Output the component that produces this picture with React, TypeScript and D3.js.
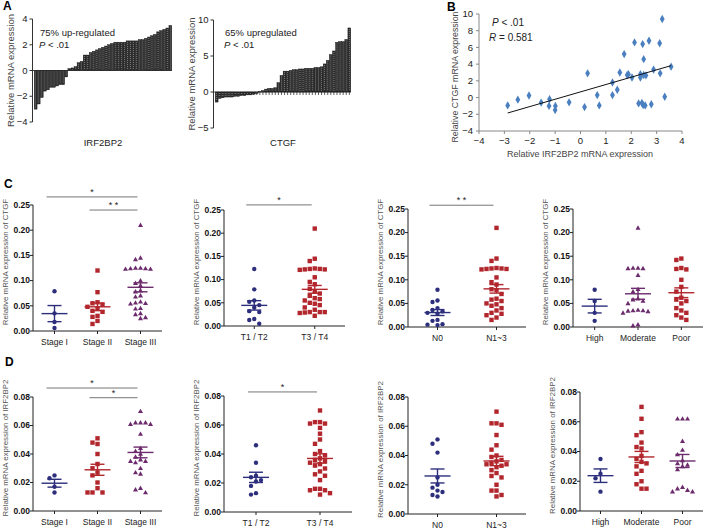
import React from 'react'
import * as d3 from 'd3'

const FONT = 'Liberation Sans, Arial, sans-serif'
const NAVY = '#2d2f7c'
const RED = '#b2272d'
const PURPLE = '#6c2b6c'

// panel A - fold change per patient, sorted
const irfFold = [-3.0, -2.6, -2.1, -1.6, -1.5, -1.3, -1.3, -1.2, -1.1, -1.1, -0.5, 0.15, 0.2, 0.3, 0.6, 0.7, 1.2, 1.2, 1.4, 1.5, 1.6, 1.7, 1.8, 1.9, 2.0, 2.1, 2.2, 2.2, 2.2, 2.2, 2.3, 2.3, 2.3, 2.3, 2.4, 2.4, 2.5, 2.6, 2.7, 2.8, 3.0, 3.1, 3.2, 3.3, 3.5]
const ctgfFold = [-1.4, -0.9, -0.8, -0.7, -0.7, -0.7, -0.6, -0.6, -0.5, -0.5, -0.4, -0.4, -0.3, -0.2, 0.1, 0.2, 0.4, 0.5, 0.5, 0.6, 1.3, 2.3, 2.9, 2.9, 3.0, 3.1, 3.1, 3.2, 3.2, 3.3, 3.3, 3.3, 3.4, 3.4, 3.5, 3.9, 4.4, 5.2, 5.7, 6.9, 7.0, 7.0, 7.3, 8.9]

// panel B - correlation
const irfX = [-2.87, -2.47, -2.03, -1.55, -1.22, -1.24, -0.99, -1.0, -0.45, 0.16, 0.28, 0.66, 0.74, 1.26, 1.26, 1.45, 1.55, 1.72, 1.84, 1.89, 2.03, 2.13, 2.36, 2.36, 2.42, 2.45, 2.49, 2.49, 2.55, 2.58, 2.7, 2.79, 2.88, 3.12, 3.14, 3.22, 3.32, 3.57, 2.29, 2.47]
const ctgfY = [-0.94, -0.25, 0.25, -0.6, -0.2, -1.0, -1.0, -1.5, -0.57, -1.14, 2.9, 0.3, -0.94, 0.3, 1.8, 0.94, 3.0, 5.2, 2.7, 2.8, 2.4, 6.6, 2.8, 2.4, -0.65, 6.4, 4.6, 2.7, -0.94, 2.65, 6.8, -0.8, 3.35, 6.5, 2.9, 9.4, 0.1, 3.7, -0.7, -0.9]
const fitSlope = 0.88
const fitIntercept = 0.68

// panel C - CTGF
const ctgfStageI = [0.079, 0.035, 0.018, 0.006]
const ctgfStageII = [0.12, 0.077, 0.057, 0.055, 0.052, 0.048, 0.045, 0.04, 0.038, 0.03, 0.028, 0.02, 0.014]
const ctgfStageIII = [0.21, 0.145, 0.142, 0.125, 0.125, 0.124, 0.124, 0.123, 0.123, 0.1, 0.095, 0.09, 0.08, 0.078, 0.07, 0.068, 0.058, 0.056, 0.055, 0.054, 0.045, 0.044, 0.035, 0.033, 0.027, 0.025]
const ctgfT12 = [0.123, 0.079, 0.055, 0.052, 0.045, 0.04, 0.032, 0.03, 0.015, 0.013, 0.005]
const ctgfT34 = [0.21, 0.145, 0.14, 0.124, 0.123, 0.123, 0.122, 0.122, 0.121, 0.105, 0.095, 0.09, 0.08, 0.075, 0.07, 0.065, 0.06, 0.058, 0.055, 0.05, 0.048, 0.045, 0.04, 0.035, 0.03, 0.03, 0.03, 0.029, 0.028, 0.022]
const ctgfN0 = [0.079, 0.056, 0.053, 0.04, 0.036, 0.033, 0.03, 0.028, 0.015, 0.013, 0.006, 0.005, 0.004]
const ctgfN13 = [0.21, 0.145, 0.14, 0.125, 0.124, 0.124, 0.123, 0.123, 0.122, 0.105, 0.095, 0.09, 0.08, 0.078, 0.07, 0.06, 0.058, 0.055, 0.05, 0.048, 0.045, 0.04, 0.035, 0.03, 0.028, 0.025, 0.02, 0.015]
const ctgfHigh = [0.079, 0.055, 0.03, 0.013]
const ctgfModerate = [0.21, 0.125, 0.125, 0.124, 0.124, 0.11, 0.08, 0.075, 0.06, 0.058, 0.055, 0.05, 0.036, 0.035, 0.035, 0.034, 0.033, 0.03, 0.005, 0.003]
const ctgfPoor = [0.145, 0.142, 0.125, 0.123, 0.122, 0.1, 0.085, 0.075, 0.062, 0.058, 0.055, 0.05, 0.04, 0.035, 0.03, 0.025, 0.02, 0.015]

// panel D - IRF2BP2
const irfStageI = [0.025, 0.023, 0.017, 0.013]
const irfStageII = [0.051, 0.048, 0.047, 0.04, 0.033, 0.03, 0.027, 0.025, 0.02, 0.016, 0.013, 0.013, 0.013]
const irfStageIII = [0.07, 0.062, 0.062, 0.062, 0.061, 0.061, 0.054, 0.044, 0.042, 0.04, 0.038, 0.036, 0.035, 0.035, 0.034, 0.03, 0.027, 0.026, 0.016, 0.015, 0.013]
const irfT12 = [0.046, 0.034, 0.025, 0.024, 0.022, 0.021, 0.018, 0.013, 0.012]
const irfT34 = [0.07, 0.062, 0.062, 0.061, 0.061, 0.058, 0.054, 0.05, 0.047, 0.042, 0.04, 0.039, 0.037, 0.036, 0.035, 0.034, 0.033, 0.032, 0.03, 0.028, 0.026, 0.025, 0.022, 0.016, 0.016, 0.015, 0.015, 0.013, 0.012]
const irfN0 = [0.051, 0.048, 0.042, 0.025, 0.02, 0.018, 0.016, 0.015, 0.013, 0.012]
const irfN13 = [0.07, 0.062, 0.062, 0.061, 0.054, 0.047, 0.044, 0.04, 0.039, 0.037, 0.036, 0.035, 0.034, 0.034, 0.033, 0.032, 0.03, 0.028, 0.026, 0.025, 0.02, 0.016, 0.016, 0.013, 0.012]
const irfHigh = [0.035, 0.025, 0.022, 0.013]
const irfModerate = [0.07, 0.062, 0.053, 0.051, 0.046, 0.043, 0.042, 0.037, 0.035, 0.033, 0.032, 0.03, 0.027, 0.025, 0.02, 0.018, 0.015, 0.015]
const irfPoor = [0.062, 0.062, 0.062, 0.047, 0.041, 0.038, 0.034, 0.032, 0.031, 0.03, 0.028, 0.016, 0.015, 0.014, 0.013, 0.013]

type Shape = 'circle' | 'square' | 'triangle'
type Group = { name: string; values: number[]; color: string; shape: Shape }
type Sig = { a: string; b: string; label: string; at: number }
type DotCfg = { groups: Group[]; x0: number; x1: number; yTop: number; yBot: number; max: number; step: number; title: string; sigs: Sig[] }

const g = (name: string, values: number[], color: string, shape: Shape): Group => ({ name, values, color, shape })

const panelsC: DotCfg[] = [
  { groups: [g('Stage I', ctgfStageI, NAVY, 'circle'), g('Stage II', ctgfStageII, RED, 'square'), g('Stage III', ctgfStageIII, PURPLE, 'triangle')],
    x0: 33, x1: 162, yTop: 205, yBot: 331, max: 0.25, step: 0.05, title: 'Relative mRNA expression of CTGF',
    sigs: [{ a: 'Stage I', b: 'Stage III', label: '*', at: 0.266 }, { a: 'Stage II', b: 'Stage III', label: '* *', at: 0.24 }] },
  { groups: [g('T1 / T2', ctgfT12, NAVY, 'circle'), g('T3 / T4', ctgfT34, RED, 'square')],
    x0: 224, x1: 345, yTop: 210, yBot: 326, max: 0.25, step: 0.05, title: 'Relative mRNA expression of CTGF',
    sigs: [{ a: 'T1 / T2', b: 'T3 / T4', label: '*', at: 0.261 }] },
  { groups: [g('N0', ctgfN0, NAVY, 'circle'), g('N1~3', ctgfN13, RED, 'square')],
    x0: 408, x1: 526, yTop: 209, yBot: 327, max: 0.25, step: 0.05, title: 'Relative mRNA expression of CTGF',
    sigs: [{ a: 'N0', b: 'N1~3', label: '* *', at: 0.258 }] },
  { groups: [g('High', ctgfHigh, NAVY, 'circle'), g('Moderate', ctgfModerate, PURPLE, 'triangle'), g('Poor', ctgfPoor, RED, 'square')],
    x0: 573, x1: 703, yTop: 209, yBot: 327, max: 0.25, step: 0.05, title: 'Relative mRNA expression of CTGF', sigs: [] },
]

const panelsD: DotCfg[] = [
  { groups: [g('Stage I', irfStageI, NAVY, 'circle'), g('Stage II', irfStageII, RED, 'square'), g('Stage III', irfStageIII, PURPLE, 'triangle')],
    x0: 33, x1: 162, yTop: 397, yBot: 511, max: 0.08, step: 0.02, title: 'Relative mRNA expression of IRF2BP2',
    sigs: [{ a: 'Stage I', b: 'Stage III', label: '*', at: 0.0863 }, { a: 'Stage II', b: 'Stage III', label: '*', at: 0.0795 }] },
  { groups: [g('T1 / T2', irfT12, NAVY, 'circle'), g('T3 / T4', irfT34, RED, 'square')],
    x0: 224, x1: 352, yTop: 396, yBot: 512, max: 0.08, step: 0.02, title: 'Relative mRNA expression of IRF2BP2',
    sigs: [{ a: 'T1 / T2', b: 'T3 / T4', label: '*', at: 0.0828 }] },
  { groups: [g('N0', irfN0, NAVY, 'circle'), g('N1~3', irfN13, RED, 'square')],
    x0: 408, x1: 526, yTop: 397, yBot: 514, max: 0.08, step: 0.02, title: 'Relative mRNA expression of IRF2BP2', sigs: [] },
  { groups: [g('High', irfHigh, NAVY, 'circle'), g('Moderate', irfModerate, RED, 'square'), g('Poor', irfPoor, PURPLE, 'triangle')],
    x0: 580, x1: 703, yTop: 392, yBot: 511, max: 0.08, step: 0.02, title: 'Relative mRNA expression of IRF2BP2', sigs: [] },
]

// simple greedy swarm so tied values sit side by side
function swarm(py: number[], s: number) {
  const order = d3.range(py.length).sort((i, j) => py[i] - py[j])
  const placed: { dx: number; y: number }[] = []
  const out = new Array(py.length).fill(0)
  for (const i of order) {
    for (let k = 0; k < 40; k++) {
      const dx = (k % 2 === 0 ? 1 : -1) * Math.ceil(k / 2) * s
      if (!placed.some(p => Math.abs(p.dx - dx) < s && Math.abs(p.y - py[i]) < s)) {
        placed.push({ dx, y: py[i] })
        out[i] = dx
        break
      }
    }
  }
  return out
}

function Marker({ x, y, shape, color }: { x: number; y: number; shape: Shape; color: string }) {
  if (shape === 'circle') return <circle cx={x} cy={y} r={2.2} fill={color} />
  if (shape === 'square') return <rect x={x - 2.2} y={y - 2.2} width={4.4} height={4.4} fill={color} />
  return <path d={`M${x},${y - 2.6}L${x + 2.5},${y + 1.8}L${x - 2.5},${y + 1.8}Z`} fill={color} />
}

function DotPanel({ cfg }: { cfg: DotCfg }) {
  const y = d3.scaleLinear().domain([0, cfg.max]).range([cfg.yBot, cfg.yTop])
  const x = d3.scalePoint().domain(cfg.groups.map(d => d.name)).range([cfg.x0, cfg.x1]).padding(0.5)
  const ticks = d3.range(0, cfg.max + 1e-9, cfg.step)
  const fmt = d3.format('.2f')
  return (
    <g>
      <line x1={cfg.x0} x2={cfg.x0} y1={cfg.yTop} y2={cfg.yBot} stroke="#222" strokeWidth={1} />
      <line x1={cfg.x0} x2={cfg.x1} y1={cfg.yBot} y2={cfg.yBot} stroke="#222" strokeWidth={1} />
      {ticks.map(t => (
        <g key={t}>
          <line x1={cfg.x0 - 3} x2={cfg.x0} y1={y(t)} y2={y(t)} stroke="#222" />
          <text x={cfg.x0 - 3} y={y(t)} dy="0.33em" textAnchor="end" fontSize={8.5} fontWeight="bold" fill="#111">{fmt(t)}</text>
        </g>
      ))}
      <text transform={`translate(${cfg.x0 - 28},${(cfg.yTop + cfg.yBot) / 2 - 6}) rotate(-90)`} dy="0.35em" textAnchor="middle" fontSize={7.9} fill="#555">{cfg.title}</text>
      {cfg.groups.map(gr => {
        const cx = x(gr.name) as number
        const py = gr.values.map(v => y(v))
        const dx = swarm(py, 5)
        const mean = d3.mean(gr.values) as number
        const sem = (d3.deviation(gr.values) as number) / Math.sqrt(gr.values.length)
        return (
          <g key={gr.name}>
            <line x1={cx} x2={cx} y1={cfg.yBot} y2={cfg.yBot + 3} stroke="#222" />
            <text x={cx} y={cfg.yBot + 14} textAnchor="middle" fontSize={8.5} fill="#222">{gr.name}</text>
            {gr.values.map((v, i) => <Marker key={i} x={cx + dx[i]} y={py[i]} shape={gr.shape} color={gr.color} />)}
            <g stroke={gr.color} strokeWidth={1.4}>
              <line x1={cx - 13} x2={cx + 13} y1={y(mean)} y2={y(mean)} />
              <line x1={cx} x2={cx} y1={y(mean - sem)} y2={y(mean + sem)} />
              <line x1={cx - 7} x2={cx + 7} y1={y(mean - sem)} y2={y(mean - sem)} />
              <line x1={cx - 7} x2={cx + 7} y1={y(mean + sem)} y2={y(mean + sem)} />
            </g>
          </g>
        )
      })}
      {cfg.sigs.map((s, i) => {
        const xa = (x(s.a) as number) - 8
        const xb = (x(s.b) as number) - 3
        return (
          <g key={i}>
            <line x1={xa} x2={xb} y1={y(s.at)} y2={y(s.at)} stroke="#666" strokeWidth={0.9} />
            <text x={(xa + xb) / 2} y={y(s.at) - 2} textAnchor="middle" fontSize={9} fill="#222">{s.label}</text>
          </g>
        )
      })}
    </g>
  )
}

type BarCfg = { values: number[]; x0: number; x1: number; domain: [number, number]; yTop: number; yBot: number; ticks: number[]; label: string; line1: string; tx: number; tickMarks: boolean }

function BarPanel({ cfg }: { cfg: BarCfg }) {
  const y = d3.scaleLinear().domain(cfg.domain).range([cfg.yBot, cfg.yTop])
  const x = d3.scaleBand<number>().domain(d3.range(cfg.values.length)).range([cfg.x0, cfg.x1]).padding(0.08)
  const ax = cfg.x0 - 1.5
  return (
    <g>
      <line x1={ax} x2={ax} y1={cfg.yTop} y2={cfg.yBot} stroke="#333" />
      {cfg.ticks.map(t => (
        <g key={t}>
          <line x1={ax - 3} x2={ax} y1={y(t)} y2={y(t)} stroke="#333" />
          <text x={ax - 5} y={y(t)} dy="0.33em" textAnchor="end" fontSize={9.5} fill="#222">{t < 0 ? '\u2212' + Math.abs(t) : t}</text>
        </g>
      ))}
      <text transform={`translate(${ax - 22},${(cfg.yTop + cfg.yBot) / 2})rotate(-90)`} dy="0.35em" textAnchor="middle" fontSize={9.5} fill="#444">Relative mRNA expression</text>
      {cfg.tickMarks && cfg.values.map((v, i) => (
        <line key={'t' + i} x1={(x(i) as number) + x.bandwidth() / 2} x2={(x(i) as number) + x.bandwidth() / 2} y1={y(0)} y2={y(0) + 3} stroke="#333" strokeWidth={0.8} />
      ))}
      {cfg.values.map((v, i) => {
        const bx = x(i) as number
        const top = Math.min(y(v), y(0))
        const h = Math.abs(y(v) - y(0))
        return (
          <g key={i}>
            <rect x={bx} y={top} width={x.bandwidth()} height={h} fill="#2a2a2a" stroke="#111" strokeWidth={0.4} />
            <line x1={bx + x.bandwidth() / 2} x2={bx + x.bandwidth() / 2} y1={top + 1} y2={top + h - 1} stroke="#9a9a9a" strokeWidth={0.8} strokeDasharray="1 1" />
          </g>
        )
      })}
      <line x1={ax} x2={cfg.x1} y1={y(0)} y2={y(0)} stroke="#222" strokeWidth={0.8} />
      <text x={cfg.tx} y={36} fontSize={9.5} fill="#222">{cfg.line1}</text>
      <text x={cfg.tx - 1} y={48} fontSize={9.5} fill="#222"><tspan fontStyle="italic">P</tspan> &lt; .01</text>
      <text x={(cfg.x0 + cfg.x1) / 2} y={146} textAnchor="middle" fontSize={9.5} fill="#222">{cfg.label}</text>
    </g>
  )
}

function ScatterB() {
  const x = d3.scaleLinear().domain([-4, 4]).range([479, 682])
  const y = d3.scaleLinear().domain([-4, 10]).range([131, 14])
  const diamond = d3.symbol(d3.symbolDiamond, 20)()
  const [xmin, xmax] = d3.extent(irfX) as [number, number]
  return (
    <g>
      <line x1={479} x2={479} y1={14} y2={131} stroke="#888" />
      <line x1={479} x2={682} y1={131} y2={131} stroke="#888" />
      {y.ticks(7).map(t => (
        <g key={t}>
          <line x1={476} x2={479} y1={y(t)} y2={y(t)} stroke="#888" />
          <text x={473} y={y(t)} dy="0.33em" textAnchor="end" fontSize={9.5} fill="#222">{t < 0 ? '\u2212' + Math.abs(t) : t}</text>
        </g>
      ))}
      {x.ticks(8).map(t => (
        <g key={t}>
          <line x1={x(t)} x2={x(t)} y1={131} y2={134} stroke="#888" />
          <text x={x(t)} y={144} textAnchor="middle" fontSize={9.5} fill="#222">{t < 0 ? '\u2212' + Math.abs(t) : t}</text>
        </g>
      ))}
      <text x={580} y={157} textAnchor="middle" fontSize={9} fill="#444">Relative IRF2BP2 mRNA expression</text>
      <text transform="translate(455,77)rotate(-90)" dy="0.35em" textAnchor="middle" fontSize={8.8} fill="#444">Relative CTGF mRNA expression</text>
      {irfX.map((v, i) => <path key={i} d={diamond as string} transform={`translate(${x(v)},${y(ctgfY[i])})`} fill="#4a7fc0" />)}
      <line x1={x(xmin)} x2={x(xmax)} y1={y(fitIntercept + fitSlope * xmin)} y2={y(fitIntercept + fitSlope * xmax)} stroke="#111" strokeWidth={1} />
      <text x={492} y={26} fontSize={10} fill="#222"><tspan fontStyle="italic">P</tspan> &lt; .01</text>
      <text x={489} y={41} fontSize={10} fill="#222"><tspan fontStyle="italic">R</tspan> = 0.581</text>
    </g>
  )
}

const barsA: BarCfg[] = [
  { values: irfFold, x0: 34, x1: 172, domain: [-4, 4], yTop: 19, yBot: 122, ticks: [-4, -2, 0, 2, 4], label: 'IRF2BP2', line1: '75% up-regulated', tx: 40, tickMarks: false },
  { values: ctgfFold, x0: 215, x1: 351, domain: [-5, 10], yTop: 20, yBot: 128, ticks: [-5, 0, 5, 10], label: 'CTGF', line1: '65% upregulated', tx: 225, tickMarks: true },
]

export default function App() {
  return (
    <svg width={709} height={530} style={{ display: 'block', position: 'absolute', left: 0, top: 0, background: '#fff' }} fontFamily={FONT}>
      <rect width={709} height={530} fill="#fff" />
      <text x={3} y={10} fontSize={12} fontWeight="bold">A</text>
      <text x={447} y={11} fontSize={12} fontWeight="bold">B</text>
      <text x={4} y={188} fontSize={12} fontWeight="bold">C</text>
      <text x={5} y={366} fontSize={12} fontWeight="bold">D</text>
      {barsA.map((c, i) => <BarPanel key={i} cfg={c} />)}
      <ScatterB />
      {panelsC.map((c, i) => <DotPanel key={'c' + i} cfg={c} />)}
      {panelsD.map((c, i) => <DotPanel key={'d' + i} cfg={c} />)}
    </svg>
  )
}
